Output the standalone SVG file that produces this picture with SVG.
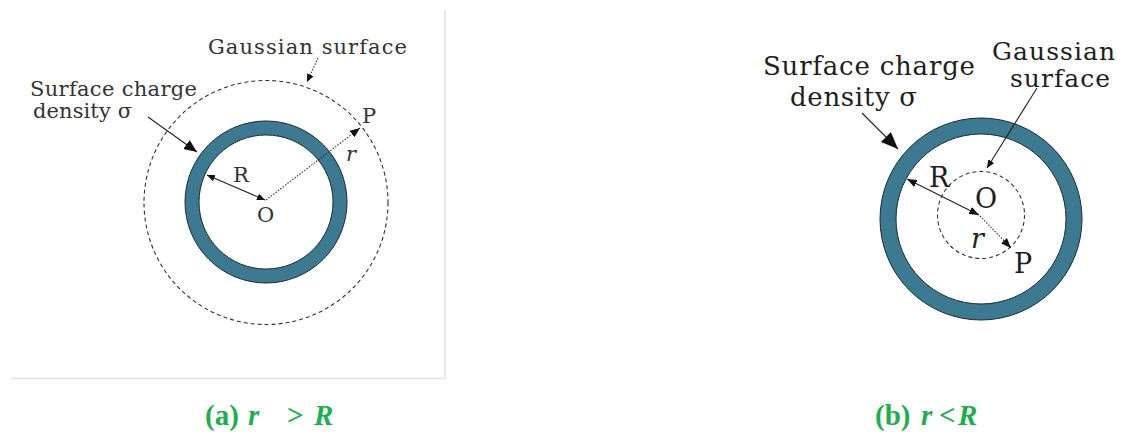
<svg xmlns="http://www.w3.org/2000/svg" width="1127" height="434" viewBox="0 0 1127 434">
<style>
.lbl{font-family:"DejaVu Serif","Liberation Serif",serif;fill:#2a2a2a}
.la{font-size:21px;fill:#333}
.lb{font-size:26px;fill:#1e1e1e}
.ring{fill:#3c7a91;stroke:#1f2a30;stroke-width:1;fill-rule:evenodd}
.gauss{fill:none;stroke:#333;stroke-width:1.1;stroke-dasharray:4 3}
.cap{font-family:"Liberation Serif",serif;font-weight:bold;font-size:29px;fill:#1caf50}
.ln{stroke:#222;stroke-width:1.1;fill:none}
.dot{stroke:#333;stroke-width:1.1;stroke-dasharray:1.5 1.5;fill:none}
</style>
<defs>
<marker id="hl" markerUnits="userSpaceOnUse" markerWidth="14" markerHeight="12" refX="13" refY="5.5" orient="auto"><path d="M0,0 L13,5.5 L0,11 z" fill="#111"/></marker>
<marker id="hxl" markerUnits="userSpaceOnUse" markerWidth="18" markerHeight="16" refX="17" refY="7" orient="auto"><path d="M0,0 L17,7 L0,14 z" fill="#111"/></marker>
<marker id="hs" markerUnits="userSpaceOnUse" markerWidth="9" markerHeight="8" refX="8" refY="3.5" orient="auto-start-reverse"><path d="M0,0 L8,3.5 L0,7 z" fill="#111"/></marker>
<marker id="hm" markerUnits="userSpaceOnUse" markerWidth="11" markerHeight="9" refX="10" refY="4" orient="auto-start-reverse"><path d="M0,0 L10,4 L0,8 z" fill="#111"/></marker>
</defs>
<rect width="1127" height="434" fill="#fff"/>
<g id="frame-a">
<line x1="445" y1="10" x2="445" y2="379" stroke="#e2e2e2" stroke-width="1.5"/>
<line x1="11" y1="378.5" x2="446" y2="378.5" stroke="#e2e2e2" stroke-width="1.5"/>
</g>
<g id="shell-a"><path class="ring" d="M185,202 a81,81 0 1,0 162,0 a81,81 0 1,0 -162,0 z M199,202 a67,67 0 1,0 134,0 a67,67 0 1,0 -134,0 z"/></g>
<g id="gauss-a"><circle class="gauss" cx="266" cy="202.5" r="122"/></g>
<g id="labels-a" class="lbl la">
<text x="208" y="54" textLength="199" lengthAdjust="spacing">Gaussian surface</text>
<text x="30" y="96" textLength="167" lengthAdjust="spacing">Surface charge</text>
<text x="33" y="118" textLength="99" lengthAdjust="spacing">density σ</text>
<text x="233" y="182">R</text>
<text x="257" y="222">O</text>
<text x="362" y="123">P</text>
<text x="346" y="161" font-style="italic">r</text>
</g>
<g id="shell-b"><path class="ring" d="M880,219 a101,101 0 1,0 202,0 a101,101 0 1,0 -202,0 z M896,219 a85,85 0 1,0 170,0 a85,85 0 1,0 -170,0 z"/></g>
<g id="gauss-b"><circle class="gauss" cx="981" cy="215" r="43.5"/></g>
<g id="labels-b" class="lbl lb">
<text x="763" y="75" textLength="212" lengthAdjust="spacing">Surface charge</text>
<text x="790" y="106" textLength="127" lengthAdjust="spacing">density σ</text>
<text x="992" y="60" font-size="25" textLength="123" lengthAdjust="spacing">Gaussian</text>
<text x="1010" y="87" font-size="25" textLength="100" lengthAdjust="spacing">surface</text>
<text x="929" y="187" font-size="27">R</text>
<text x="975" y="208" font-size="27">O</text>
<text x="1014" y="273" font-size="27">P</text>
<text x="971" y="248" font-size="27" font-style="italic">r</text>
</g>
<g id="connectors">
<line class="ln" x1="148" y1="117" x2="197" y2="152" marker-end="url(#hl)"/>
<line class="dot" x1="318" y1="58" x2="307" y2="82" marker-end="url(#hs)"/>
<line class="ln" x1="265" y1="200" x2="207" y2="175" stroke-width="0.9" marker-start="url(#hs)" marker-end="url(#hs)"/>
<line class="dot" x1="266" y1="200" x2="360" y2="128" marker-end="url(#hm)"/>
<line class="ln" x1="862" y1="113" x2="898" y2="149" marker-end="url(#hxl)"/>
<line class="ln" x1="1037" y1="88" x2="987" y2="168" marker-end="url(#hs)"/>
<line class="ln" x1="979" y1="215" x2="907" y2="179" stroke-width="1.4" marker-start="url(#hm)" marker-end="url(#hm)"/>
<line class="dot" x1="980" y1="216" x2="1011" y2="248" marker-end="url(#hm)"/>
</g>
<g id="captions">
<text class="cap" y="425"><tspan x="205">(a)</tspan><tspan x="248" font-style="italic">r</tspan><tspan x="287">&gt;</tspan><tspan x="314" font-style="italic">R</tspan></text>
<text class="cap" y="425"><tspan x="875">(b)</tspan><tspan x="921" font-style="italic">r</tspan><tspan x="939">&lt;</tspan><tspan x="958" font-style="italic">R</tspan></text>
</g>
</svg>
